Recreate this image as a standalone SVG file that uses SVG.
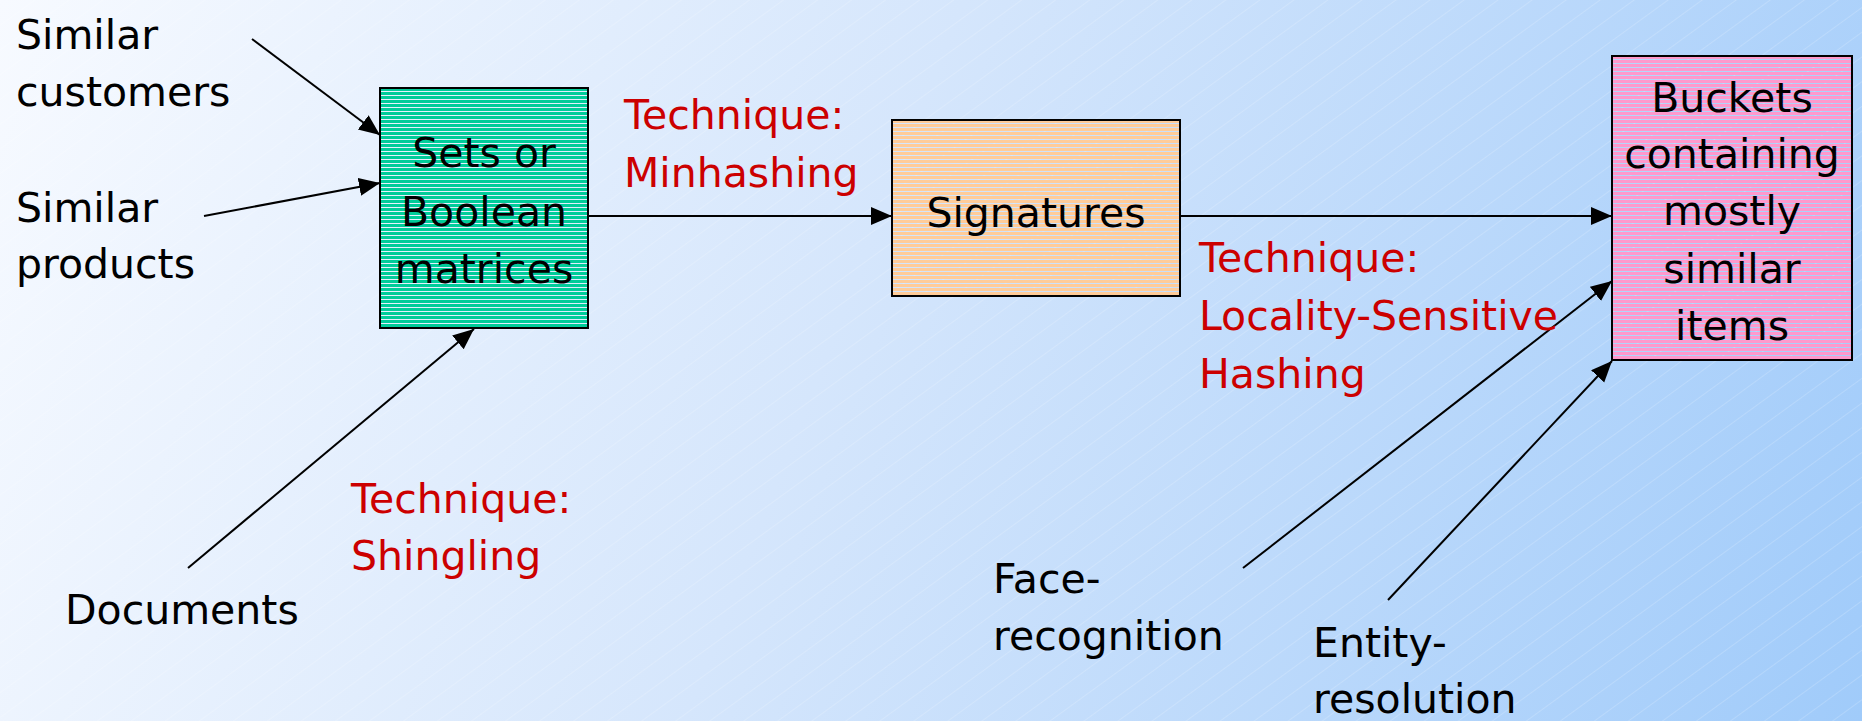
<svg xmlns="http://www.w3.org/2000/svg" width="1862" height="721" viewBox="0 0 1862 721">
  <defs>
    <linearGradient id="bg" gradientUnits="userSpaceOnUse" x1="0" y1="0" x2="1862" y2="721">
      <stop offset="0" stop-color="#f7faff"/>
      <stop offset="0.45" stop-color="#d5e6fc"/>
      <stop offset="1" stop-color="#a0cbfa"/>
    </linearGradient>
    <pattern id="hatch" patternUnits="userSpaceOnUse" width="200" height="20" patternTransform="rotate(-36)">
      <line x1="0" y1="0.5" x2="200" y2="0.5" stroke="#ffffff" stroke-width="0.8" stroke-opacity="0.22"/>
    </pattern>
    <pattern id="pGreen" patternUnits="userSpaceOnUse" width="8" height="4">
      <rect x="0" y="0" width="8" height="3" fill="#00cc99"/>
    </pattern>
    <pattern id="pOrange" patternUnits="userSpaceOnUse" width="8" height="4">
      <rect x="0" y="0" width="8" height="3" fill="#ffcc99"/>
    </pattern>
    <pattern id="pPink" patternUnits="userSpaceOnUse" width="8" height="4">
      <rect x="0" y="0" width="8" height="3" fill="#ff99cc"/>
    </pattern>
    <marker id="arrow" markerUnits="userSpaceOnUse" markerWidth="22" markerHeight="20" refX="21" refY="9" orient="auto">
      <path d="M0,0 L21,9 L0,18 Z" fill="#000000"/>
    </marker>
    <style>
      text { font-family: "DejaVu Sans", Verdana, sans-serif; font-size: 41px; fill: #000000; }
      .red { fill: #cc0000; }
      .mid { text-anchor: middle; }
      .box { stroke: #000000; stroke-width: 2; }
      .conn { stroke: #000000; stroke-width: 2; fill: none; marker-end: url(#arrow); }
    </style>
  </defs>

  <rect x="0" y="0" width="1862" height="721" fill="url(#bg)"/>
  <rect x="0" y="0" width="1862" height="721" fill="url(#hatch)"/>

  <g id="connectors">
    <line class="conn" x1="252" y1="39" x2="380" y2="135"/>
    <line class="conn" x1="204" y1="216" x2="380" y2="183"/>
    <line class="conn" x1="188" y1="568" x2="474" y2="329"/>
    <line class="conn" x1="588" y1="216" x2="892" y2="216"/>
    <line class="conn" x1="1180" y1="216" x2="1612" y2="216"/>
    <line class="conn" x1="1243" y1="568" x2="1612" y2="281"/>
    <line class="conn" x1="1388" y1="600" x2="1612" y2="361"/>
  </g>

  <g id="node-sets">
    <rect class="box" x="380" y="88" width="208" height="240" fill="url(#pGreen)"/>
    <text class="mid" x="484" y="167">Sets or</text>
    <text class="mid" x="484" y="226">Boolean</text>
    <text class="mid" x="484" y="283">matrices</text>
  </g>

  <g id="node-signatures">
    <rect class="box" x="892" y="120" width="288" height="176" fill="url(#pOrange)"/>
    <text class="mid" x="1036" y="227">Signatures</text>
  </g>

  <g id="node-buckets">
    <rect class="box" x="1612" y="56" width="240" height="304" fill="url(#pPink)"/>
    <text class="mid" x="1732" y="112">Buckets</text>
    <text class="mid" x="1732" y="168">containing</text>
    <text class="mid" x="1732" y="225">mostly</text>
    <text class="mid" x="1732" y="283">similar</text>
    <text class="mid" x="1732" y="340">items</text>
  </g>

  <g id="node-customers">
    <text x="16" y="49">Similar</text>
    <text x="16" y="106">customers</text>
  </g>

  <g id="node-products">
    <text x="16" y="222">Similar</text>
    <text x="16" y="278">products</text>
  </g>

  <g id="node-documents">
    <text x="65" y="624">Documents</text>
  </g>

  <g id="node-face">
    <text x="993" y="593">Face-</text>
    <text x="993" y="650">recognition</text>
  </g>

  <g id="node-entity">
    <text x="1313" y="657">Entity-</text>
    <text x="1313" y="713">resolution</text>
  </g>

  <g id="label-minhashing">
    <text class="red" x="624" y="129">Technique:</text>
    <text class="red" x="624" y="187">Minhashing</text>
  </g>

  <g id="label-lsh">
    <text class="red" x="1199" y="272">Technique:</text>
    <text class="red" x="1199" y="330">Locality-Sensitive</text>
    <text class="red" x="1199" y="388">Hashing</text>
  </g>

  <g id="label-shingling">
    <text class="red" x="351" y="513">Technique:</text>
    <text class="red" x="351" y="570">Shingling</text>
  </g>
</svg>
